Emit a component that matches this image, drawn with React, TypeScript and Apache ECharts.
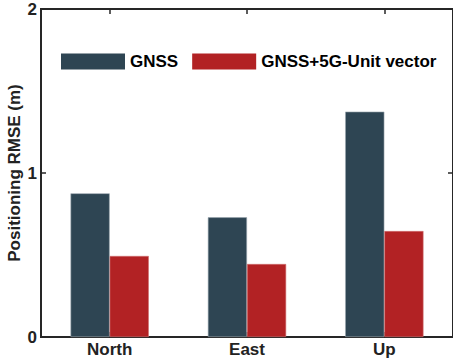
import React, { useEffect, useRef } from "react";
import * as echarts from "echarts";

const categories = ["North", "East", "Up"];
const seriesNames = ["GNSS", "GNSS+5G-Unit vector"];
const gnssValues = [0.876, 0.73, 1.374];
const fusedValues = [0.494, 0.445, 0.646];
const yTicks = [0, 1, 2];

const FONT = "'Liberation Sans', Arial, Helvetica, sans-serif";
const AXIS_COLOR = "#262626";
const FS = 17;

export default function App() {
  const ref = useRef<HTMLDivElement>(null);
  useEffect(() => {
    if (!ref.current) return;
    const chart = echarts.init(ref.current, undefined, { renderer: "svg" });
    const tickStyle = { show: true, inside: true, length: 5, lineStyle: { color: AXIS_COLOR, width: 1.5 } };
    const lineStyle = { show: true, onZero: false, lineStyle: { color: AXIS_COLOR, width: 2 } };
    chart.setOption({
      animation: false,
      textStyle: { fontFamily: FONT },
      grid: {
        left: 41,
        right: 0,
        top: 9,
        bottom: 25,
        containLabel: false,
        outerBoundsMode: "none",
        show: true,
        borderColor: AXIS_COLOR,
        borderWidth: 2,
        backgroundColor: "transparent",
      },
      legend: {
        data: seriesNames,
        left: 61,
        top: 53,
        padding: 0,
        itemWidth: 64,
        itemHeight: 16,
        itemGap: 14,
        icon: "rect",
        itemStyle: { borderWidth: 0 },
        textStyle: { fontSize: FS, fontWeight: "bold", color: "#000", fontFamily: FONT },
      },
      xAxis: [
        {
          type: "category",
          data: categories,
          position: "bottom",
          axisLine: lineStyle,
          axisTick: { ...tickStyle, alignWithLabel: true },
          axisLabel: { fontSize: FS, fontWeight: "bold", color: "#222", margin: 4, fontFamily: FONT },
        },
        {
          type: "category",
          data: categories,
          position: "top",
          axisLine: lineStyle,
          axisTick: { ...tickStyle, alignWithLabel: true },
          axisLabel: { show: false },
        },
      ],
      yAxis: [
        {
          type: "value",
          min: yTicks[0],
          max: yTicks[yTicks.length - 1],
          interval: 1,
          position: "left",
          name: "Positioning RMSE (m)",
          nameLocation: "middle",
          nameGap: 18,
          nameMoveOverlap: false,
          nameTextStyle: { fontSize: FS, fontWeight: "bold", color: "#222", fontFamily: FONT },
          axisLine: lineStyle,
          axisTick: tickStyle,
          splitLine: { show: false },
          axisLabel: { fontSize: FS, fontWeight: "bold", color: "#222", margin: 4, fontFamily: FONT },
        },
        {
          type: "value",
          min: yTicks[0],
          max: yTicks[yTicks.length - 1],
          interval: 1,
          position: "right",
          axisLine: lineStyle,
          axisTick: tickStyle,
          splitLine: { show: false },
          axisLabel: { show: false },
        },
      ],
      series: [
        {
          name: seriesNames[0],
          type: "bar",
          data: gnssValues,
          barGap: "0%",
          barCategoryGap: "43%",
          itemStyle: { color: "#2E4553", borderColor: "#9aa6ae", borderWidth: 0.6 },
        },
        {
          name: seriesNames[1],
          type: "bar",
          data: fusedValues,
          barGap: "0%",
          barCategoryGap: "43%",
          itemStyle: { color: "#B22224", borderColor: "#d07070", borderWidth: 0.6 },
        },
      ],
    });
    return () => chart.dispose();
  }, []);
  return (
    <div
      ref={ref}
      style={{ position: "fixed", left: 0, top: 0, width: 453, height: 362, background: "#fff" }}
    />
  );
}
